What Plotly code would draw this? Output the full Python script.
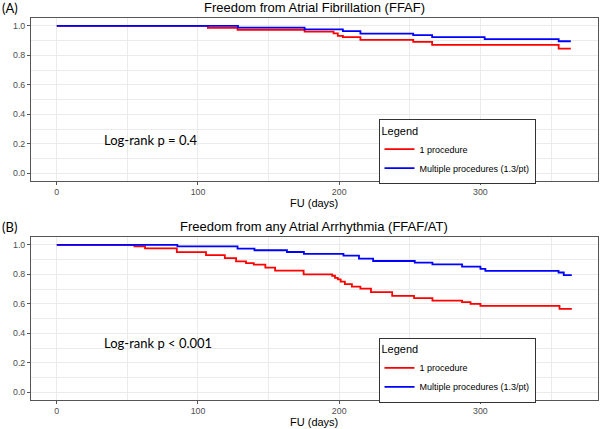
import plotly.graph_objects as go

# ---------------- data ----------------
a_red_days = [0, 107, 128, 175.5, 196, 199, 202.6, 215, 252.4, 265.8, 355.4, 364]
a_red_surv = [1.0, 0.986, 0.973, 0.961, 0.948, 0.932, 0.923, 0.905, 0.891, 0.870, 0.845, 0.845]

a_blue_days = [0, 128.3, 175.5, 202.6, 215, 252.4, 265.8, 303, 355.4, 364]
a_blue_surv = [1.0, 0.987, 0.975, 0.964, 0.947, 0.936, 0.923, 0.909, 0.895, 0.895]

b_red_days = [0, 55, 62.5, 85, 105.7, 119, 127, 134, 139.5, 147.7, 154.6, 174.8, 195, 197, 199,
              201, 204, 209, 215, 222.5, 237.5, 253, 266, 287, 293, 300, 356, 364.7]
b_red_surv = [1.0, 0.989, 0.975, 0.95, 0.93, 0.91, 0.887, 0.876, 0.866, 0.845, 0.825, 0.80, 0.79, 0.776, 0.765,
              0.75, 0.733, 0.717, 0.703, 0.679, 0.654, 0.638, 0.622, 0.611, 0.60, 0.586, 0.566, 0.566]

b_blue_days = [0, 85.4, 128, 140, 163, 175, 203, 214, 224, 253.5, 266, 287, 300, 303.5, 355.3, 359, 364.7]
b_blue_surv = [1.0, 0.989, 0.974, 0.963, 0.951, 0.938, 0.926, 0.906, 0.89, 0.879, 0.867, 0.852, 0.837, 0.823,
               0.812, 0.794, 0.794]

group_names = ["1 procedure", "Multiple procedures (1.3/pt)"]
panel_titles = ["Freedom from Atrial Fibrillation (FFAF)", "Freedom from any Atrial Arrhythmia (FFAF/AT)"]
panel_tags = ["(A)", "(B)"]
logrank_texts = ["Log-rank p = 0.4", "Log-rank p < 0.001"]
x_title = "FU (days)"
x_ticks = [0, 100, 200, 300]
y_ticks = [0.0, 0.2, 0.4, 0.6, 0.8, 1.0]

RED = "#FF0000"
BLUE = "#0000FF"
W, H = 600, 429

fig = go.Figure()

def add_pair(xref, yref, legend, days_r, surv_r, days_b, surv_b):
    fig.add_trace(go.Scatter(x=days_r, y=surv_r, mode="lines", line=dict(color=RED, width=1.8, shape="hv"),
                             name=group_names[0], xaxis=xref, yaxis=yref, legend=legend))
    fig.add_trace(go.Scatter(x=days_b, y=surv_b, mode="lines", line=dict(color=BLUE, width=1.8, shape="hv"),
                             name=group_names[1], xaxis=xref, yaxis=yref, legend=legend))

add_pair("x", "y", "legend", a_red_days, a_red_surv, a_blue_days, a_blue_surv)
add_pair("x2", "y2", "legend2", b_red_days, b_red_surv, b_blue_days, b_blue_surv)

def px_x(p):
    return p / W

def px_y(p):
    return 1 - p / H

x_dom = [px_x(31), px_x(598)]
a_dom = [px_y(180.7), px_y(18.4)]
b_dom = [px_y(399.7), px_y(237.4)]

GRID = "#EBEBEB"
BORDER = "#555555"
SANS = "Liberation Sans, Arial"
TICKFONT = dict(family=SANS, size=8.8, color="#4d4d4d")

def xaxis(anchor):
    return dict(domain=x_dom, anchor=anchor, range=[-18.25, 383.25], tickvals=x_ticks,
                showgrid=True, gridcolor=GRID, gridwidth=1,
                minor=dict(dtick=50, tick0=0, showgrid=True, gridcolor=GRID, gridwidth=0.6),
                showline=True, mirror=True, linecolor=BORDER, linewidth=1,
                ticks="outside", ticklen=3, tickcolor=BORDER, tickwidth=1,
                tickfont=TICKFONT, zeroline=False, automargin=False)

def yaxis(anchor, dom):
    return dict(domain=dom, anchor=anchor, range=[-0.05, 1.05], tickvals=y_ticks, tickformat=".1f",
                showgrid=True, gridcolor=GRID, gridwidth=1,
                minor=dict(dtick=0.1, tick0=0, showgrid=True, gridcolor=GRID, gridwidth=0.6),
                showline=True, mirror=True, linecolor=BORDER, linewidth=1,
                ticks="outside", ticklen=3, tickcolor=BORDER, tickwidth=1,
                tickfont=TICKFONT, zeroline=False, automargin=False)

def legend_cfg(top_px):
    return dict(x=px_x(457), y=px_y(top_px), xanchor="center", yanchor="top",
                bgcolor="white", bordercolor="#333333", borderwidth=1,
                font=dict(family=SANS, size=9, color="#000000"),
                title=dict(text="Legend", font=dict(family=SANS, size=11, color="#000000")),
                itemwidth=30, tracegroupgap=0)

annotations = []
for i, off in enumerate([0, 219]):
    annotations.append(dict(text=panel_titles[i], x=px_x(314), y=px_y(7 + off), xref="paper", yref="paper",
                            showarrow=False, xanchor="center", yanchor="middle",
                            font=dict(family=SANS, size=13, color="#000000")))
    annotations.append(dict(text=panel_tags[i], x=0, y=px_y(8 + off), xref="paper", yref="paper",
                            showarrow=False, xanchor="left", yanchor="middle",
                            font=dict(family="Lato", size=13, color="#000000")))
    annotations.append(dict(text=x_title, x=px_x(314), y=px_y(203 + off), xref="paper", yref="paper",
                            showarrow=False, xanchor="center", yanchor="middle",
                            font=dict(family=SANS, size=11, color="#000000")))
annotations.append(dict(text=logrank_texts[0], x=px_x(102), y=px_y(140), xref="paper", yref="paper",
                        showarrow=False, xanchor="left", yanchor="middle",
                        font=dict(family="Lato", size=13, color="#000000")))
annotations.append(dict(text=logrank_texts[1], x=px_x(102), y=px_y(343), xref="paper", yref="paper",
                        showarrow=False, xanchor="left", yanchor="middle",
                        font=dict(family="Lato", size=13, color="#000000")))

fig.update_layout(
    width=W, height=H,
    margin=dict(l=0, r=0, t=0, b=0),
    paper_bgcolor="white", plot_bgcolor="white",
    xaxis=xaxis("y"), yaxis=yaxis("x", a_dom),
    xaxis2=xaxis("y2"), yaxis2=yaxis("x2", b_dom),
    legend=legend_cfg(119.3),
    legend2=legend_cfg(338),
    annotations=annotations,
    showlegend=True,
)

fig.write_html("out.html",
               config={"displayModeBar": False},
               post_script="document.body.style.margin='0';document.body.style.overflow='hidden';")
